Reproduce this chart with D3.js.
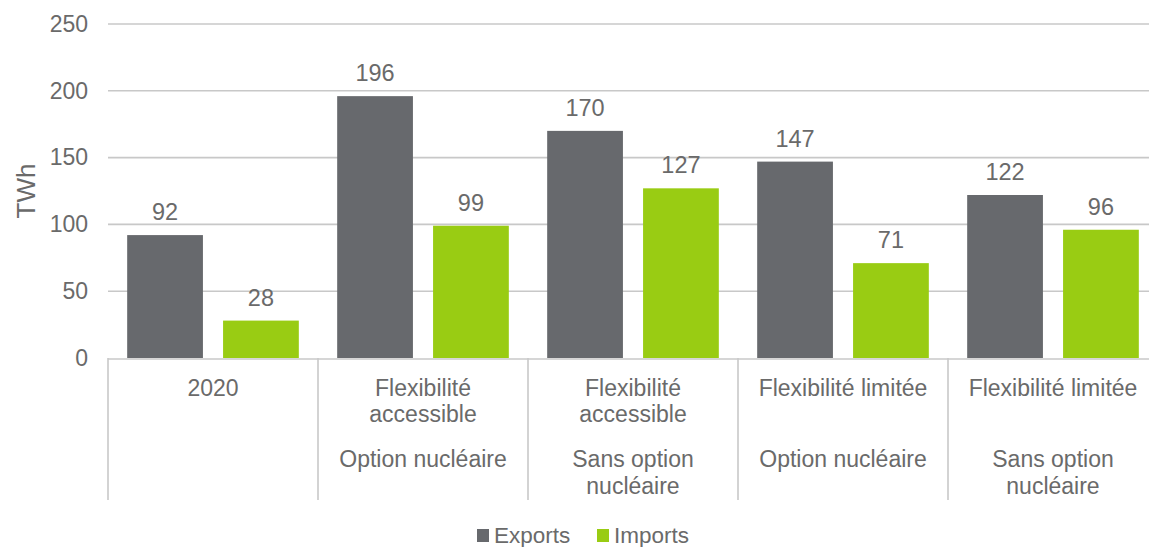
<!DOCTYPE html>
<html>
<head>
<meta charset="utf-8">
<script src="https://cdn.jsdelivr.net/npm/d3@7"></script>
<style>
  html, body { margin: 0; padding: 0; background: #fff; }
  svg { display: block; font-family: "Liberation Sans", Arial, sans-serif; }
</style>
</head>
<body>
<svg id="chart" width="1149" height="547"></svg>
<script>
// Scenario categories (first label level) and their grouping (second level)
const categories = ["2020", "FA-ON", "FA-SON", "FL-ON", "FL-SON"];
const levelOne = [["2020"], ["Flexibilité", "accessible"], ["Flexibilité", "accessible"], ["Flexibilité limitée"], ["Flexibilité limitée"]];
const levelTwo = [[], ["Option nucléaire"], ["Sans option", "nucléaire"], ["Option nucléaire"], ["Sans option", "nucléaire"]];

const seriesNames = ["Exports", "Imports"];
const exportsTWh = [92, 196, 170, 147, 122];
const importsTWh = [28, 99, 127, 71, 96];
const yTicks = [0, 50, 100, 150, 200, 250];

const colors = { Exports: "#67696d", Imports: "#99cc13" };
const textColor = "#6a6a6a";

const svg = d3.select("#chart");
const margin = { left: 108, top: 24, right: 1158, bottom: 358 };

const x = d3.scaleBand().domain(categories).range([margin.left, margin.right]).paddingInner(0).paddingOuter(0);
const xs = d3.scaleBand().domain(seriesNames).range([0, x.bandwidth()]).paddingInner(0.21).paddingOuter(0.2);
const y = d3.scaleLinear().domain([0, 250]).range([margin.bottom, margin.top]);

// Horizontal gridlines
svg.append("g")
  .selectAll("line")
  .data(yTicks.filter(d => d > 0))
  .join("line")
  .attr("x1", margin.left).attr("x2", 1149)
  .attr("y1", d => y(d)).attr("y2", d => y(d))
  .attr("stroke", "#c8c8c8").attr("stroke-width", 1.6);

// Y axis labels
const yAxis = d3.axisLeft(y).tickValues(yTicks).tickSize(0).tickPadding(20);
const gy = svg.append("g").attr("transform", `translate(${margin.left},0)`).call(yAxis);
gy.select(".domain").remove();
gy.selectAll("text").attr("font-size", 23).attr("fill", textColor)
  .attr("font-family", "Liberation Sans, Arial, sans-serif");

// Y axis title
svg.append("text")
  .attr("transform", `translate(35,${y(125) + 0}) rotate(-90)`)
  .attr("text-anchor", "middle")
  .attr("font-size", 26).attr("fill", textColor)
  .text("TWh");

// Bars
const rows = categories.map((c, i) => ({ cat: c, values: [
  { key: "Exports", value: exportsTWh[i] },
  { key: "Imports", value: importsTWh[i] }
]}));

const groups = svg.append("g").selectAll("g")
  .data(rows).join("g")
  .attr("transform", d => `translate(${x(d.cat)},0)`);

groups.selectAll("rect")
  .data(d => d.values).join("rect")
  .attr("x", d => xs(d.key))
  .attr("width", xs.bandwidth())
  .attr("y", d => y(d.value))
  .attr("height", d => y(0) - y(d.value))
  .attr("fill", d => colors[d.key]);

groups.selectAll("text.val")
  .data(d => d.values).join("text")
  .attr("class", "val")
  .attr("x", d => xs(d.key) + xs.bandwidth() / 2)
  .attr("y", d => y(d.value) - 15)
  .attr("text-anchor", "middle")
  .attr("font-size", 23.5).attr("fill", textColor)
  .text(d => d.value);

// Category axis: baseline and separators
const axisG = svg.append("g");
axisG.append("line")
  .attr("x1", margin.left).attr("x2", 1149)
  .attr("y1", y(0) + 1).attr("y2", y(0) + 1)
  .attr("stroke", "#c8c8c8").attr("stroke-width", 1.6);
axisG.selectAll("line.sep")
  .data(categories).join("line")
  .attr("class", "sep")
  .attr("x1", d => x(d)).attr("x2", d => x(d))
  .attr("y1", y(0)).attr("y2", 500)
  .attr("stroke", "#c8c8c8").attr("stroke-width", 1.6);

// Category labels, two levels
categories.forEach((c, i) => {
  const cx = x(c) + x.bandwidth() / 2;
  levelOne[i].forEach((line, j) => {
    axisG.append("text")
      .attr("x", cx).attr("y", 396 + j * 26)
      .attr("text-anchor", "middle")
      .attr("font-size", 23).attr("fill", textColor)
      .text(line);
  });
  levelTwo[i].forEach((line, j) => {
    axisG.append("text")
      .attr("x", cx).attr("y", 467 + j * 27)
      .attr("text-anchor", "middle")
      .attr("font-size", 23).attr("fill", textColor)
      .text(line);
  });
});

// Legend
const legend = svg.append("g");
const legendItems = [{ key: "Exports", x: 477 }, { key: "Imports", x: 597 }];
legendItems.forEach(it => {
  legend.append("rect").attr("x", it.x).attr("y", 529).attr("width", 12).attr("height", 13)
    .attr("fill", colors[it.key]);
  legend.append("text").attr("x", it.x + 17).attr("y", 543)
    .attr("font-size", 22.5).attr("fill", textColor).text(it.key);
});
</script>
</body>
</html>
